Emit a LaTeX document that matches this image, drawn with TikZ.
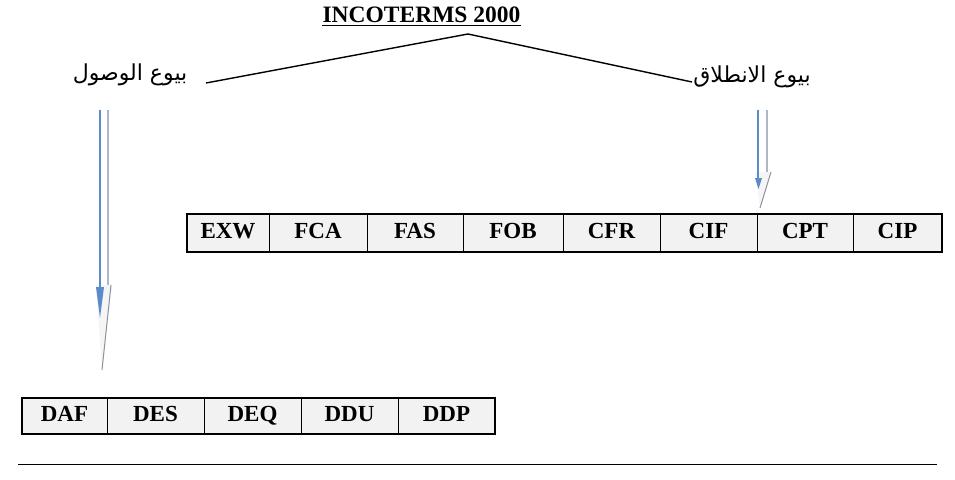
\documentclass[tikz,border=0pt]{standalone}
\usepackage{fontspec}
\setmainfont{Liberation Serif}
\newfontfamily\arabicfont[Script=Arabic]{DejaVu Sans}
\TeXXeTstate=1
\definecolor{cellfill}{HTML}{F2F2F2}
\definecolor{arrblue}{HTML}{5B8BC9}
\definecolor{arrgray}{HTML}{AEB6C4}
\begin{document}
\begin{tikzpicture}[x=1pt,y=-1pt,
  cell/.style={draw=black, line width=0.9pt, fill=cellfill, inner sep=0pt, outer sep=0pt,
    anchor=north west, text height=15pt, text depth=4pt,
    font=\fontsize{23}{26}\selectfont\bfseries},
  arab/.style={inner sep=0pt, font=\fontsize{22}{26}\selectfont\arabicfont},
  link/.style={draw=black, line width=1.4pt}]
\useasboundingbox (0,0) rectangle (955,479);
% title
\node[inner sep=0pt, anchor=base, font=\fontsize{23.5}{26}\selectfont\bfseries] (title) at (421.5,23) {INCOTERMS 2000};
\draw[line width=1.2pt] ([yshift=-2.5pt]title.base west) -- ([yshift=-2.5pt]title.base east);
\coordinate (apex) at (468,34);
% arabic headings
\node[arab] (arr) at (130,75) {\beginR بيوع الوصول\endR};
\node[arab] (dep) at (752,77) {\beginR بيوع الانطلاق\endR};
\coordinate (lend) at (206,83);
\coordinate (rend) at (692,82);
\draw[link] (lend) -- (apex) -- (rend);
% top table
\foreach \x/\w/\t [count=\i] in {187/82/EXW,269/98/FCA,367/96/FAS,463/100/FOB,563/97/CFR,660/97/CIF,757/96/CPT,853/89/CIP}
  \node[cell, minimum width=\w pt, minimum height=38pt] (t\i) at (\x,214) {\t};
\draw[line width=1.6pt] (t1.north west) rectangle (t8.south east);
% bottom table
\foreach \x/\w/\t [count=\i] in {22/85/DAF,107/97/DES,204/97/DEQ,301/97/DDU,398/97/DDP}
  \node[cell, minimum width=\w pt, minimum height=36pt] (b\i) at (\x,398) {\t};
\draw[line width=1.6pt] (b1.north west) rectangle (b5.south east);
% left arrow
\fill[black!4] (96,285) -- (112,285) -- (102,370) -- cycle;
\draw[arrgray, line width=1.3pt] (108,110) -- (108,285);
\draw[arrblue, line width=1.3pt] (100,110) -- (100,290);
\fill[arrblue] (96,287) -- (104,287) -- (100,318) -- cycle;
\draw[arrgray!80!black, line width=1pt] (111,285) -- (102,370);
% right arrow
\fill[black!4] (755,172) -- (771,172) -- (760,208) -- cycle;
\draw[arrgray, line width=1.3pt] (767,110) -- (767,172);
\draw[arrblue, line width=1.3pt] (758,110) -- (758,180);
\fill[arrblue] (755,178) -- (762,178) -- (758.5,189) -- cycle;
\draw[arrgray!80!black, line width=1pt] (771,172) -- (760,208);
% bottom rule
\draw[line width=0.8pt] (18,464) -- (937,464);
\end{tikzpicture}
\end{document}
